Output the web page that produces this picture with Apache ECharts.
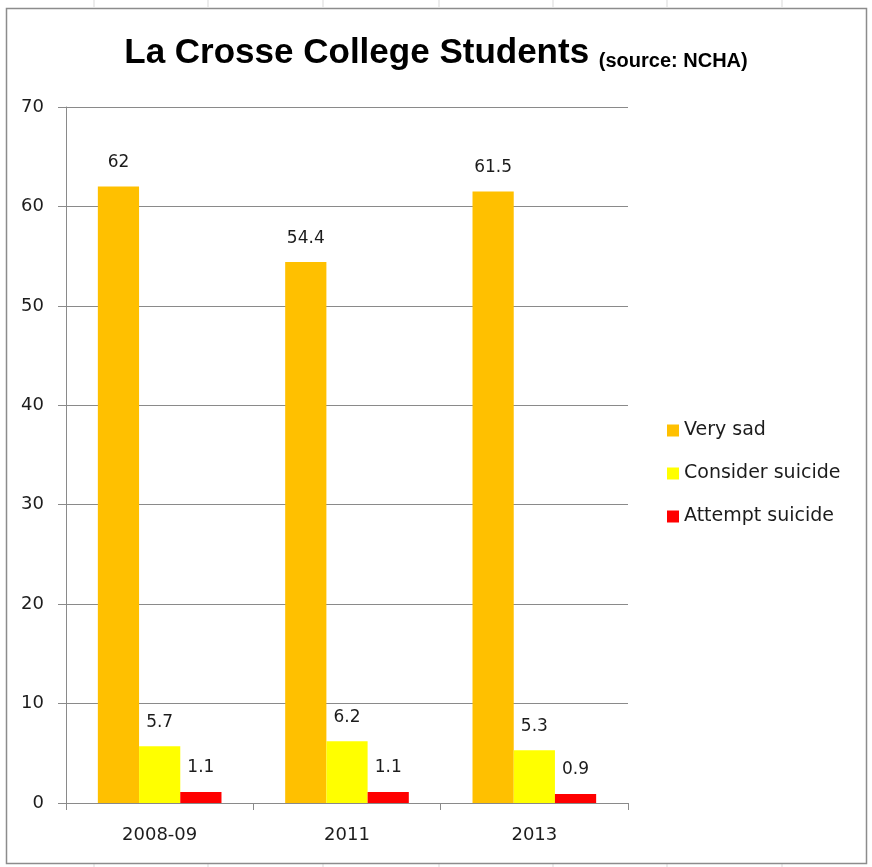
<!DOCTYPE html>
<html>
<head>
<meta charset="utf-8">
<script src="https://cdn.jsdelivr.net/npm/echarts@6/dist/echarts.min.js"></script>
<style>
html,body{margin:0;padding:0;background:#fff;}
#c{width:872px;height:867px;}
</style>
</head>
<body>
<div id="c"></div>
<script>
const categories = ['2008-09', '2011', '2013'];
const verySad = [62, 54.4, 61.5];
const considerSuicide = [5.7, 6.2, 5.3];
const attemptSuicide = [1.1, 1.1, 0.9];
const seriesNames = ['Very sad', 'Consider suicide', 'Attempt suicide'];
const yMin = 0, yMax = 70, yStep = 10;

const chart = echarts.init(document.getElementById('c'), null, {renderer: 'canvas'});
const txt = '#1c1c1c';
const font = 'DejaVu Sans';
const gridColor = '#8a8a8a';

function bar(name, data, color) {
  return {
    name: name,
    type: 'bar',
    data: data,
    barGap: '0%',
    barCategoryGap: '34%',
    itemStyle: {color: color},
    label: {
      show: true,
      position: 'top',
      distance: 15,
      fontFamily: font,
      fontSize: 17,
      lineHeight: 18,
      color: txt
    },
    emphasis: {disabled: true}
  };
}

const sheetLines = [];
[94, 208, 323, 439, 553, 667, 782].forEach(function (x) {
  sheetLines.push({type: 'line', shape: {x1: x, y1: 0, x2: x, y2: 7}, style: {stroke: '#d9d9d9', lineWidth: 1}, silent: true});
  sheetLines.push({type: 'line', shape: {x1: x, y1: 864, x2: x, y2: 867}, style: {stroke: '#d9d9d9', lineWidth: 1}, silent: true});
});

chart.setOption({
  animation: false,
  backgroundColor: '#fff',
  title: {
    left: 'center',
    top: 31,
    padding: 0,
    text: '{a|La Crosse College Students }{b|(source: NCHA)}',
    textStyle: {
      rich: {
        a: {fontFamily: 'Liberation Sans', fontWeight: 'bold', fontSize: 35, lineHeight: 40, color: '#000', verticalAlign: 'bottom'},
        b: {fontFamily: 'Liberation Sans', fontWeight: 'bold', fontSize: 20, lineHeight: 30, color: '#000', verticalAlign: 'bottom'}
      }
    }
  },
  legend: {
    orient: 'vertical',
    left: 667,
    top: 421,
    padding: 0,
    itemWidth: 12,
    itemHeight: 12,
    itemGap: 24,
    icon: 'rect',
    data: seriesNames,
    textStyle: {fontFamily: font, fontSize: 19, lineHeight: 19, color: txt}
  },
  grid: {left: 66, right: 244, top: 107, bottom: 64, containLabel: false},
  xAxis: {
    type: 'category',
    data: categories,
    boundaryGap: true,
    axisLine: {show: true, lineStyle: {color: gridColor, width: 1}},
    axisTick: {show: true, length: 7, alignWithLabel: false, lineStyle: {color: gridColor}},
    axisLabel: {fontFamily: font, fontSize: 18, lineHeight: 18, color: txt, margin: 23}
  },
  yAxis: {
    type: 'value',
    min: yMin,
    max: yMax,
    interval: yStep,
    axisLine: {show: true, lineStyle: {color: gridColor, width: 1}},
    axisTick: {show: true, length: 8, lineStyle: {color: gridColor}},
    splitLine: {show: true, lineStyle: {color: gridColor, width: 1}},
    axisLabel: {fontFamily: font, fontSize: 18, color: txt, margin: 22}
  },
  series: [
    bar(seriesNames[0], verySad, '#FFC000'),
    bar(seriesNames[1], considerSuicide, '#FFFF00'),
    bar(seriesNames[2], attemptSuicide, '#FF0000')
  ],
  graphic: sheetLines.concat([
    {type: 'rect', shape: {x: 6.5, y: 8.5, width: 860, height: 855}, style: {fill: 'none', stroke: '#8c8c8c', lineWidth: 1.5}, silent: true, z: 100}
  ])
});
</script>
</body>
</html>
